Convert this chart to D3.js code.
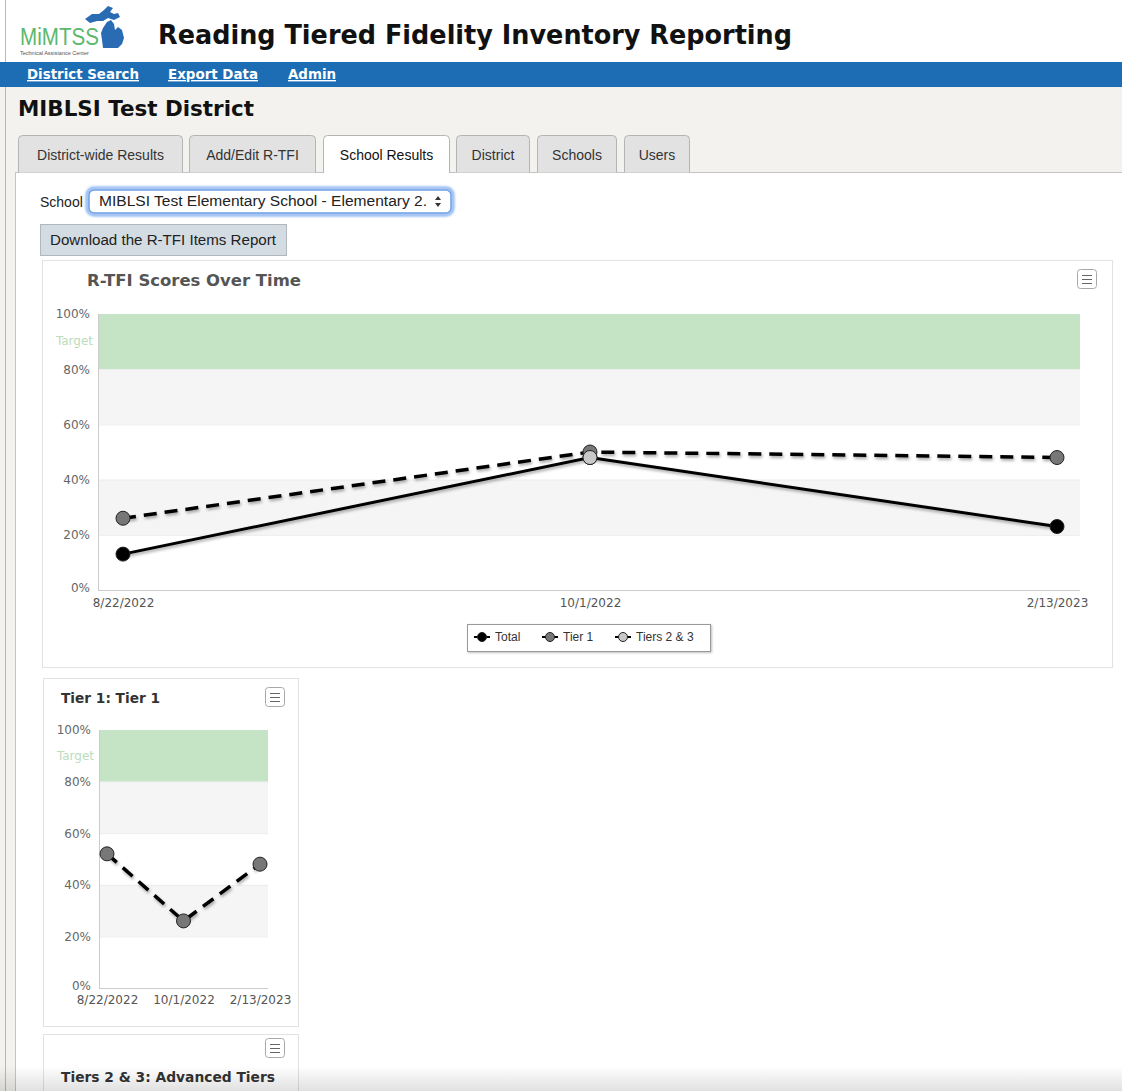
<!DOCTYPE html>
<html>
<head>
<meta charset="utf-8">
<script src="https://cdn.jsdelivr.net/npm/d3@7"></script>
<style>
  html, body { margin: 0; padding: 0; background: #fff; }
  svg { display: block; }
</style>
</head>
<body>
<svg id="page" width="1122" height="1091"></svg>
<script>
// ---- data ----
var categories = ["8/22/2022", "10/1/2022", "2/13/2023"];
var totalScores = [13, 48, 23];
var tier1Scores = [26, 50, 48];
var tiers23Scores = [null, 48, null];
var tier1OnlyScores = [52, 26, 48];
var yTicks = [0, 20, 40, 60, 80, 100];
var targetBand = [80, 100];
var navLinks = ["District Search", "Export Data", "Admin"];
var tabNames = ["District-wide Results", "Add/Edit R-TFI", "School Results", "District", "Schools", "Users"];
var legendNames = ["Total", "Tier 1", "Tiers 2 & 3"];

var svg = d3.select("#page");
var defs = svg.append("defs");

var shadow = defs.append("filter").attr("id", "lineShadow")
    .attr("x", "-5%").attr("y", "-20%").attr("width", "110%").attr("height", "140%");
shadow.append("feDropShadow").attr("dx", 1).attr("dy", 2)
    .attr("stdDeviation", 1.4).attr("flood-color", "#000").attr("flood-opacity", 0.35);

var boxShadow = defs.append("filter").attr("id", "boxShadow")
    .attr("x", "-5%").attr("y", "-20%").attr("width", "110%").attr("height", "150%");
boxShadow.append("feDropShadow").attr("dx", 1).attr("dy", 1)
    .attr("stdDeviation", 1).attr("flood-color", "#000").attr("flood-opacity", 0.25);

var glow = defs.append("filter").attr("id", "glow")
    .attr("x", "-5%").attr("y", "-30%").attr("width", "110%").attr("height", "160%");
glow.append("feGaussianBlur").attr("stdDeviation", 1.2);

var fade = defs.append("linearGradient").attr("id", "bottomFade")
    .attr("x1", 0).attr("y1", 0).attr("x2", 0).attr("y2", 1);
fade.append("stop").attr("offset", "0%").attr("stop-color", "#000").attr("stop-opacity", 0);
fade.append("stop").attr("offset", "100%").attr("stop-color", "#000").attr("stop-opacity", 0.12);

var uiFont = "'Liberation Sans', Arial, sans-serif";
var vFont = "'DejaVu Sans', Verdana, sans-serif";

// ---- page chrome ----
svg.append("rect").attr("width", 1122).attr("height", 1091).attr("fill", "#f4f2ee");
svg.append("rect").attr("width", 1122).attr("height", 62).attr("fill", "#fff");
svg.append("line").attr("x1", 5.5).attr("x2", 5.5).attr("y1", 0).attr("y2", 1091)
    .attr("stroke", "#b8b8b8");

// logo
var logo = svg.append("g");
logo.append("text").attr("x", 20).attr("y", 45).text("MiMTSS")
    .attr("font-family", uiFont).attr("font-size", 23).attr("fill", "#5cb86c")
    .attr("textLength", 79).attr("lengthAdjust", "spacingAndGlyphs");
logo.append("path")
    .attr("d", "M85,19 L92,14 L99,14 L104,10 L108,6 L113,8 L110,12 L114,14 L118,13 L120,17 L114,20 L108,18 L103,21 L97,21 L90,23 Z")
    .attr("fill", "#2a6cb3");
logo.append("path")
    .attr("d", "M103,28 L107,22 L111,20 L114,24 L115,30 L118,27 L122,30 L124,38 L122,44 L118,48 L103,48 L102,40 L101,33 Z")
    .attr("fill", "#2a6cb3");
logo.append("text").attr("x", 20).attr("y", 55).text("Technical Assistance Center")
    .attr("font-family", uiFont).attr("font-size", 5.5).attr("fill", "#555");

svg.append("text").attr("x", 158).attr("y", 44)
    .text("Reading Tiered Fidelity Inventory Reporting")
    .attr("font-family", vFont).attr("font-weight", "bold").attr("font-size", 27)
    .attr("fill", "#111").attr("textLength", 634).attr("lengthAdjust", "spacingAndGlyphs");

// nav bar
svg.append("rect").attr("x", 0).attr("y", 62).attr("width", 1122).attr("height", 25).attr("fill", "#1d6db5");
var navX = [27, 168, 288];
var navW = [112, 90, 48];
navLinks.forEach(function(name, i) {
    svg.append("text").attr("x", navX[i]).attr("y", 79).text(name)
        .attr("font-family", vFont).attr("font-weight", "bold").attr("font-size", 14)
        .attr("fill", "#fff").attr("text-decoration", "underline")
        .attr("textLength", navW[i]).attr("lengthAdjust", "spacingAndGlyphs");
});

svg.append("text").attr("x", 18).attr("y", 116).text("MIBLSI Test District")
    .attr("font-family", vFont).attr("font-weight", "bold").attr("font-size", 22)
    .attr("fill", "#111").attr("textLength", 236).attr("lengthAdjust", "spacingAndGlyphs");

// content panel
svg.append("rect").attr("x", 15.5).attr("y", 172.5).attr("width", 1110).attr("height", 930)
    .attr("fill", "#fff").attr("stroke", "#c4c4c4");

// tabs
var tabX = [18, 189, 323, 456, 537, 624];
var tabR = [183, 316, 450, 530, 617, 690];
tabNames.forEach(function(name, i) {
    var active = name == "School Results";
    var x0 = tabX[i] + 0.5, x1 = tabR[i] - 0.5, top = 135.5, bot = active ? 173 : 172.5;
    svg.append("path")
        .attr("d", "M" + x0 + "," + bot + " L" + x0 + "," + (top + 4) + " Q" + x0 + "," + top + " " + (x0 + 4) + "," + top +
            " L" + (x1 - 4) + "," + top + " Q" + x1 + "," + top + " " + x1 + "," + (top + 4) + " L" + x1 + "," + bot)
        .attr("fill", active ? "#fff" : "#e2e2e2").attr("stroke", "#b4b4b4");
    svg.append("text").attr("x", (tabX[i] + tabR[i]) / 2).attr("y", 160).text(name)
        .attr("text-anchor", "middle").attr("font-family", uiFont).attr("font-size", 14)
        .attr("fill", active ? "#111" : "#333");
});

// school select
svg.append("text").attr("x", 40).attr("y", 207).text("School")
    .attr("font-family", uiFont).attr("font-size", 14).attr("fill", "#222");
svg.append("rect").attr("x", 87).attr("y", 188).attr("width", 366).attr("height", 27).attr("rx", 7)
    .attr("fill", "none").attr("stroke", "#8ab4f0").attr("stroke-width", 3).attr("filter", "url(#glow)");
svg.append("rect").attr("x", 89).attr("y", 190).attr("width", 362).attr("height", 23).attr("rx", 5)
    .attr("fill", "#fff").attr("stroke", "#6e9fe6").attr("stroke-width", 1.5);
svg.append("text").attr("x", 99).attr("y", 206).text("MIBLSI Test Elementary School - Elementary 2.")
    .attr("font-family", uiFont).attr("font-size", 14).attr("fill", "#222")
    .attr("textLength", 328).attr("lengthAdjust", "spacingAndGlyphs");
svg.append("path").attr("d", "M435,200 L438,196 L441,200 Z M435,203 L438,207 L441,203 Z").attr("fill", "#333");

// download button
svg.append("rect").attr("x", 40.5).attr("y", 224.5).attr("width", 246).attr("height", 31)
    .attr("fill", "#d3dce2").attr("stroke", "#b0b8be");
svg.append("text").attr("x", 50).attr("y", 245).text("Download the R-TFI Items Report")
    .attr("font-family", uiFont).attr("font-size", 14).attr("fill", "#222")
    .attr("textLength", 226).attr("lengthAdjust", "spacingAndGlyphs");

function menuIcon(x, y) {
    var g = svg.append("g").attr("transform", "translate(" + x + "," + y + ")");
    g.append("rect").attr("x", 0.5).attr("y", 0.5).attr("width", 19).attr("height", 19).attr("rx", 3)
        .attr("fill", "#fff").attr("stroke", "#a8a8a8");
    [6.5, 10.5, 14.5].forEach(function(ly) {
        g.append("line").attr("x1", 5).attr("x2", 15).attr("y1", ly).attr("y2", ly)
            .attr("stroke", "#666").attr("stroke-width", 1);
    });
}

// generic chart drawer
function drawChart(opt) {
    var g = svg.append("g");
    g.append("rect").attr("x", opt.box[0] + 0.5).attr("y", opt.box[1] + 0.5)
        .attr("width", opt.box[2] - opt.box[0]).attr("height", opt.box[3] - opt.box[1])
        .attr("fill", "#fff").attr("stroke", "#e2e2e2");
    g.append("text").attr("x", opt.titleX).attr("y", opt.titleY).text(opt.title)
        .attr("font-family", vFont).attr("font-weight", "bold").attr("font-size", opt.titleSize)
        .attr("fill", opt.titleColor).attr("textLength", opt.titleW).attr("lengthAdjust", "spacingAndGlyphs");
    menuIcon(opt.menu[0], opt.menu[1]);

    var x = d3.scalePoint().domain(categories).range(opt.xRange);
    var y = d3.scaleLinear().domain([0, 100]).range(opt.yRange);
    var left = opt.plotX[0], right = opt.plotX[1];

    // alternating bands + target band
    for (var i = 0; i < yTicks.length - 1; i++) {
        var lo = yTicks[i], hi = yTicks[i + 1];
        var fill = (i % 2 == 1) ? "#f5f5f5" : "#fff";
        if (lo >= targetBand[0] && hi <= targetBand[1]) fill = "#c5e3c5";
        g.append("rect").attr("x", left).attr("y", y(hi)).attr("width", right - left)
            .attr("height", y(lo) - y(hi)).attr("fill", fill);
    }
    g.selectAll(".grid").data(yTicks.slice(1, -1)).enter().append("line")
        .attr("x1", left).attr("x2", right).attr("y1", function(d) { return y(d) + 0.5; })
        .attr("y2", function(d) { return y(d) + 0.5; }).attr("stroke", "#ececec");

    // axes
    var yAxis = g.append("g").attr("transform", "translate(" + (left - 5) + ",0)")
        .call(d3.axisLeft(y).tickValues(yTicks).tickSize(0).tickFormat(function(d) { return d + "%"; }));
    yAxis.select(".domain").remove();
    yAxis.selectAll("text").attr("font-family", vFont).attr("font-size", 12).attr("fill", "#666")
        .attr("dy", function(d) { return d == 0 ? "0.1em" : "0.32em"; });
    g.append("text").attr("x", left - 5).attr("y", y((targetBand[0] + targetBand[1]) / 2)).attr("dy", "0.32em")
        .attr("text-anchor", "end").text("Target").attr("font-family", vFont).attr("font-size", 12)
        .attr("fill", "#bcdcbc");

    g.append("line").attr("x1", left + 0.5).attr("x2", left + 0.5).attr("y1", y(100)).attr("y2", y(0))
        .attr("stroke", "#ccc");
    g.append("line").attr("x1", left).attr("x2", right).attr("y1", y(0) + 0.5).attr("y2", y(0) + 0.5)
        .attr("stroke", "#ccc");

    var xAxis = g.append("g").attr("transform", "translate(0," + y(0) + ")")
        .call(d3.axisBottom(x).tickSize(0).tickPadding(opt.xPad));
    xAxis.select(".domain").remove();
    xAxis.selectAll("text").attr("font-family", vFont).attr("font-size", 12).attr("fill", "#555");

    // series
    opt.series.forEach(function(s) {
        var line = d3.line().defined(function(d) { return d != null; })
            .x(function(d, i) { return x(categories[i]); })
            .y(function(d) { return y(d); });
        g.append("path").datum(s.values).attr("d", line).attr("fill", "none")
            .attr("stroke", "#000").attr("stroke-width", s.dash ? 3.5 : 3)
            .attr("stroke-dasharray", s.dash ? "13,8" : null)
            .attr("filter", "url(#lineShadow)");
    });
    opt.series.forEach(function(s) {
        g.selectAll(null).data(s.values.map(function(v, i) { return { v: v, c: categories[i] }; })
                .filter(function(d) { return d.v != null; }))
            .enter().append("circle")
            .attr("cx", function(d) { return x(d.c); })
            .attr("cy", function(d) { return y(d.v); })
            .attr("r", 7).attr("fill", s.color).attr("stroke", "#222").attr("stroke-width", 1);
    });
    return g;
}

// main chart
var mainSeries = [
    { name: legendNames[0], values: totalScores, color: "#000", dash: false },
    { name: legendNames[1], values: tier1Scores, color: "#777", dash: true },
    { name: legendNames[2], values: tiers23Scores, color: "#c8c8c8", dash: false }
];
drawChart({
    box: [42, 260, 1112, 667],
    title: "R-TFI Scores Over Time", titleX: 87, titleY: 286, titleSize: 16, titleW: 214, titleColor: "#555",
    menu: [1077, 269],
    xRange: [123, 1057], yRange: [590, 314], plotX: [98, 1080], xPad: 8,
    series: mainSeries
});

// legend
var legend = svg.append("g");
legend.append("rect").attr("x", 467.5).attr("y", 624.5).attr("width", 243).attr("height", 27)
    .attr("fill", "#fff").attr("stroke", "#999").attr("filter", "url(#boxShadow)");
var legX = [474, 542, 615];
mainSeries.forEach(function(s, i) {
    legend.append("line").attr("x1", legX[i]).attr("x2", legX[i] + 16).attr("y1", 637).attr("y2", 637)
        .attr("stroke", "#000").attr("stroke-width", 2);
    legend.append("circle").attr("cx", legX[i] + 8).attr("cy", 637).attr("r", 4.5)
        .attr("fill", s.color).attr("stroke", "#222");
    legend.append("text").attr("x", legX[i] + 21).attr("y", 641).text(s.name)
        .attr("font-family", uiFont).attr("font-size", 12).attr("fill", "#333");
});

// Tier 1 small chart
drawChart({
    box: [43, 678, 298, 1026],
    title: "Tier 1: Tier 1", titleX: 61, titleY: 703, titleSize: 14, titleW: 99, titleColor: "#333",
    menu: [265, 687],
    xRange: [107, 260], yRange: [988, 730], plotX: [99, 268], xPad: 7,
    series: [{ name: "Tier 1", values: tier1OnlyScores, color: "#777", dash: true }]
});

// Tiers 2 & 3 box (cut off by the window)
svg.append("rect").attr("x", 43.5).attr("y", 1034.5).attr("width", 255).attr("height", 80)
    .attr("fill", "#fff").attr("stroke", "#e2e2e2");
menuIcon(265, 1038);
svg.append("text").attr("x", 61).attr("y", 1082).text("Tiers 2 & 3: Advanced Tiers")
    .attr("font-family", vFont).attr("font-weight", "bold").attr("font-size", 14)
    .attr("fill", "#333").attr("textLength", 214).attr("lengthAdjust", "spacingAndGlyphs");

svg.append("rect").attr("x", 0).attr("y", 1066).attr("width", 1122).attr("height", 25)
    .attr("fill", "url(#bottomFade)");
</script>
</body>
</html>
